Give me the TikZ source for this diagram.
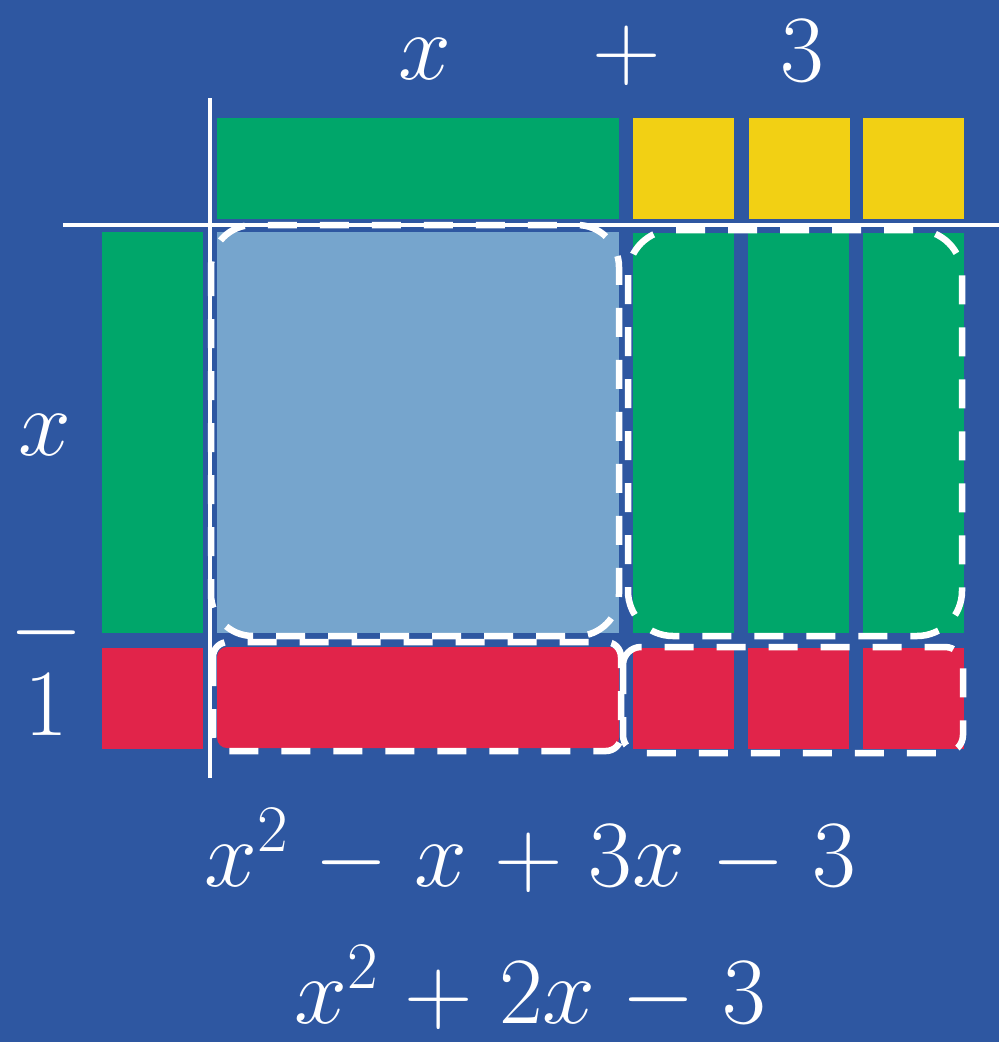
\RequirePackage{fix-cm}
\documentclass[tikz,border=0pt]{standalone}
\definecolor{bg}{RGB}{46,87,161}
\definecolor{tgreen}{RGB}{0,166,106}
\definecolor{tyellow}{RGB}{242,208,20}
\definecolor{tblue}{RGB}{118,165,205}
\definecolor{tred}{RGB}{225,36,74}
\medmuskip=5mu plus 2mu minus 4mu
\begin{document}
\begin{tikzpicture}[x=1pt,y=-1pt,
  dashbox/.style={draw=white, line width=6.5pt, dash pattern=on 29pt off 23pt},
  axisline/.style={draw=white, line width=4pt},
  lbl/.style={text=white, inner sep=0pt, anchor=base, font=\fontsize{95}{100}\selectfont}]
\useasboundingbox (0,0) rectangle (999,1042);
\fill[bg] (0,0) rectangle (999,1042);
% top row
\fill[tgreen] (217,118) rectangle (619,219);
\fill[tyellow] (633,118) rectangle (734,219);
\fill[tyellow] (749,118) rectangle (850,219);
\fill[tyellow] (863,118) rectangle (964,219);
% left column
\fill[tgreen] (102,232) rectangle (203,633);
\fill[tred] (102,648) rectangle (203,749);
% products
\fill[tblue] (217,232) rectangle (619,633);
\fill[tgreen] (633,233) rectangle (734,633);
\fill[tgreen] (748,233) rectangle (849,633);
\fill[tgreen] (863,233) rectangle (964,633);
\fill[tred, rounded corners=10pt] (217,647) rectangle (619,748);
\fill[tred] (633,648) rectangle (734,749);
\fill[tred] (748,648) rectangle (849,749);
\fill[tred] (863,648) rectangle (964,749);
% axes
\coordinate (vtop) at (210,98);
\coordinate (vbot) at (210,778);
\coordinate (hl) at (63,225);
\coordinate (hr) at (999,225);
\draw[axisline] (vtop) -- (vbot);
\draw[axisline] (hl) -- (hr);
% dashed groups
\draw[dashbox, rounded corners=42pt] (211,225) rectangle (619,636);
\draw[dashbox, rounded corners=45pt] (628,230) rectangle (962,636);
\draw[dashbox, rounded corners=15pt] (213,642) rectangle (621,751);
\draw[dashbox, rounded corners=18pt] (623,647) rectangle (963,753);
% labels
\node[lbl] (tx) at (425,79) {$x$};
\node[lbl] (tplus) at (627,79) {$+$};
\node[lbl] (tthree) at (802,81) {$3$};
\node[lbl] (lx) at (45,455) {$x$};
\node[lbl] (lminus) at (46,656) {$-$};
\node[lbl] (lone) at (46,735) {$1$};
\node[lbl] (eone) at (530,886) {$x^2-x+3x-3$};
\node[lbl] (etwo) at (530,1023) {$x^2+2x-3$};
\end{tikzpicture}
\end{document}
